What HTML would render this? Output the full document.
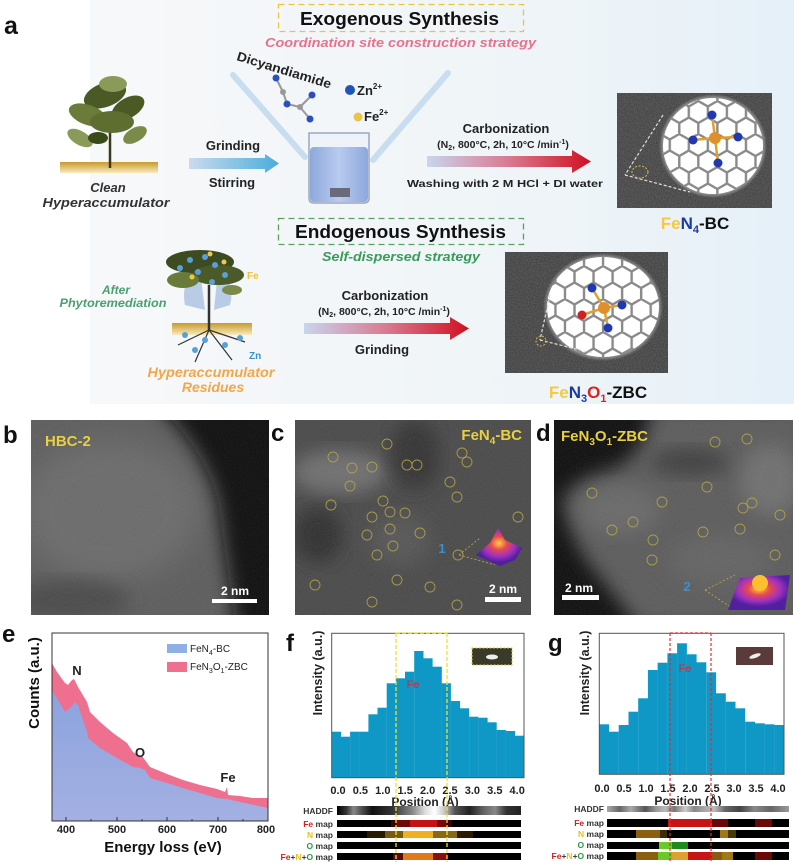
<!DOCTYPE html>
<html><head><meta charset="utf-8"><style>
html,body{margin:0;padding:0;background:#fff;}
svg{display:block;font-family:"Liberation Sans",Arial,sans-serif;}
</style></head><body>
<svg width="794" height="864" viewBox="0 0 794 864" xmlns="http://www.w3.org/2000/svg">
<defs>
<linearGradient id="bgA" x1="0" y1="0" x2="1" y2="0">
<stop offset="0" stop-color="#f7f8f9"/><stop offset="0.68" stop-color="#eef4f8"/><stop offset="1" stop-color="#e5f0f8"/></linearGradient>
<linearGradient id="soil" x1="0" y1="0" x2="0" y2="1"><stop offset="0" stop-color="#c89a2a"/><stop offset="1" stop-color="#f6ebc0"/></linearGradient>
<linearGradient id="arr1" x1="0" y1="0" x2="1" y2="0"><stop offset="0" stop-color="#cdd9ee"/><stop offset="1" stop-color="#4aaedb"/></linearGradient>
<linearGradient id="arr2" x1="0" y1="0" x2="1" y2="0"><stop offset="0" stop-color="#c9d5ef"/><stop offset="0.5" stop-color="#d87a90"/><stop offset="1" stop-color="#d01020"/></linearGradient>
<linearGradient id="beak" x1="0" y1="0" x2="1" y2="0"><stop offset="0" stop-color="#8ea8dc"/><stop offset="0.5" stop-color="#b8cbef"/><stop offset="1" stop-color="#8ea8dc"/></linearGradient>
<radialGradient id="glow" cx="0.5" cy="0.5" r="0.5"><stop offset="0.8" stop-color="#fff"/><stop offset="1" stop-color="#fff" stop-opacity="0"/></radialGradient>
<pattern id="hex" width="19.05" height="33" patternUnits="userSpaceOnUse" x="3" y="2">
<rect width="19.05" height="33" fill="#fff"/>
<path d="M9.53 0 L19.05 5.5 L19.05 16.5 L9.53 22 L0 16.5 L0 5.5 Z M9.53 22 L9.53 33" fill="none" stroke="#8a8a8a" stroke-width="2.4"/></pattern>
<filter id="noise" x="0" y="0" width="100%" height="100%"><feTurbulence type="fractalNoise" baseFrequency="0.85" numOctaves="2" seed="4"/><feColorMatrix type="saturate" values="0"/></filter>
<filter id="blur" x="-20%" y="-20%" width="140%" height="140%"><feGaussianBlur stdDeviation="9"/></filter>
<filter id="blur2" x="-30%" y="-30%" width="160%" height="160%"><feGaussianBlur stdDeviation="14"/></filter>
<radialGradient id="peak" cx="0.5" cy="0.4" r="0.5"><stop offset="0" stop-color="#ffd040"/><stop offset="0.35" stop-color="#e84a50"/><stop offset="0.7" stop-color="#a030c0"/><stop offset="1" stop-color="#5020a0"/></radialGradient>
<linearGradient id="blueE" x1="0" y1="0" x2="0" y2="1"><stop offset="0" stop-color="#8ba3de"/><stop offset="1" stop-color="#a4b0e2"/></linearGradient>
<linearGradient id="hadf" gradientUnits="userSpaceOnUse" x1="337" y1="0" x2="521" y2="0">
<stop offset="0" stop-color="#000"/><stop offset="0.05" stop-color="#333"/><stop offset="0.09" stop-color="#888"/><stop offset="0.13" stop-color="#555"/><stop offset="0.19" stop-color="#111"/><stop offset="0.3" stop-color="#333"/><stop offset="0.41" stop-color="#888"/><stop offset="0.48" stop-color="#ddd"/><stop offset="0.53" stop-color="#fff"/><stop offset="0.58" stop-color="#ccc"/><stop offset="0.64" stop-color="#555"/><stop offset="0.72" stop-color="#222"/><stop offset="0.8" stop-color="#666"/><stop offset="0.86" stop-color="#888"/><stop offset="0.92" stop-color="#333"/><stop offset="1" stop-color="#222"/></linearGradient>
<linearGradient id="hadg" gradientUnits="userSpaceOnUse" x1="607" y1="0" x2="789" y2="0">
<stop offset="0" stop-color="#aaa"/><stop offset="0.07" stop-color="#666"/><stop offset="0.13" stop-color="#aaa"/><stop offset="0.21" stop-color="#555"/><stop offset="0.27" stop-color="#999"/><stop offset="0.32" stop-color="#bbb"/><stop offset="0.37" stop-color="#777"/><stop offset="0.43" stop-color="#ccc"/><stop offset="0.48" stop-color="#888"/><stop offset="0.54" stop-color="#aaa"/><stop offset="0.59" stop-color="#bbb"/><stop offset="0.65" stop-color="#666"/><stop offset="0.73" stop-color="#444"/><stop offset="0.81" stop-color="#888"/><stop offset="0.9" stop-color="#666"/><stop offset="1" stop-color="#999"/></linearGradient>
<clipPath id="e1"><ellipse cx="713" cy="146" rx="50" ry="48"/></clipPath>
<clipPath id="e2"><ellipse cx="603" cy="307" rx="56" ry="50"/></clipPath>
<clipPath id="cb"><rect x="31" y="420" width="238" height="195"/></clipPath>
<clipPath id="cc"><rect x="295" y="420" width="236" height="195"/></clipPath>
<clipPath id="cd"><rect x="554" y="420" width="239" height="195"/></clipPath>
</defs>

<!-- ===== Panel a ===== -->
<rect x="0" y="0" width="794" height="405" fill="#fff"/>
<rect x="90" y="0" width="704" height="404" fill="url(#bgA)"/>
<text x="4" y="34" font-size="25" font-weight="bold" fill="#111">a</text>

<rect x="278.5" y="4.5" width="245" height="27" fill="none" stroke="#e8c640" stroke-width="1.3" stroke-dasharray="6,4"/>
<text x="300" y="25" font-size="18" font-weight="bold" fill="#111" textLength="199" lengthAdjust="spacingAndGlyphs">Exogenous Synthesis</text>
<text x="265" y="47" font-size="13" font-weight="bold" font-style="italic" fill="#e8718c" textLength="271" lengthAdjust="spacingAndGlyphs">Coordination site construction strategy</text>

<line x1="233" y1="75" x2="305" y2="157" stroke="#c8ddf0" stroke-width="6" stroke-linecap="round"/>
<line x1="448" y1="73" x2="373" y2="160" stroke="#c8ddf0" stroke-width="6" stroke-linecap="round"/>
<text x="0" y="0" font-size="13" font-weight="bold" fill="#222" transform="translate(236,60) rotate(17)" textLength="98" lengthAdjust="spacingAndGlyphs">Dicyandiamide</text>
<g stroke="#999" stroke-width="2"><line x1="276" y1="78" x2="283" y2="92"/><line x1="283" y1="92" x2="287" y2="104"/><line x1="287" y1="104" x2="300" y2="107"/><line x1="300" y1="107" x2="312" y2="95"/><line x1="300" y1="107" x2="310" y2="119"/></g>
<circle cx="276" cy="78" r="3.5" fill="#2a4fc0"/><circle cx="283" cy="92" r="3" fill="#999"/><circle cx="287" cy="104" r="3.5" fill="#2a4fc0"/><circle cx="300" cy="107" r="3" fill="#999"/><circle cx="312" cy="95" r="3.5" fill="#2a4fc0"/><circle cx="310" cy="119" r="3.5" fill="#2a4fc0"/>
<circle cx="350" cy="90" r="5" fill="#1f55b8"/>
<text x="357" y="95" font-size="13" font-weight="bold" fill="#222">Zn<tspan font-size="8" dy="-6">2+</tspan></text>
<circle cx="358" cy="117" r="4.5" fill="#e8c448"/>
<text x="364" y="121" font-size="13" font-weight="bold" fill="#222">Fe<tspan font-size="8" dy="-6">2+</tspan></text>
<path d="M309 133 L369 133 L369 198 Q369 203 364 203 L314 203 Q309 203 309 198 Z" fill="#eef3fa" stroke="#9aa8c0" stroke-width="1.5"/>
<rect x="310" y="147" width="58" height="55" rx="4" fill="url(#beak)"/>
<rect x="330" y="188" width="20" height="9" fill="#6a6a7a"/>

<rect x="60" y="162" width="98" height="11" fill="url(#soil)"/>
<line x1="110" y1="120" x2="110" y2="168" stroke="#3a3a20" stroke-width="2.5"/>
<g fill="#4b5a25">
<ellipse cx="105" cy="95" rx="22" ry="12" transform="rotate(-20 105 95)"/>
<ellipse cx="88" cy="115" rx="20" ry="10" transform="rotate(20 88 115)" fill="#6b7b3a"/>
<ellipse cx="128" cy="108" rx="18" ry="10" transform="rotate(-30 128 108)"/>
<ellipse cx="112" cy="122" rx="22" ry="11" fill="#5e6e30"/>
<ellipse cx="80" cy="138" rx="14" ry="7" transform="rotate(30 80 138)" fill="#8a9a58"/>
<ellipse cx="135" cy="135" rx="13" ry="7" transform="rotate(-30 135 135)" fill="#7a8a48"/>
<ellipse cx="113" cy="84" rx="14" ry="8" fill="#8a9a58"/>
<ellipse cx="98" cy="138" rx="10" ry="6" fill="#3a4a18"/>
</g>
<text x="108" y="192" font-size="13" font-weight="bold" font-style="italic" fill="#333" text-anchor="middle">Clean</text>
<text x="106" y="207" font-size="13" font-weight="bold" font-style="italic" fill="#333" text-anchor="middle" textLength="127" lengthAdjust="spacingAndGlyphs">Hyperaccumulator</text>

<path d="M189 158 L265 158 L265 154 L279 163.5 L265 173 L265 169 L189 169 Z" fill="url(#arr1)"/>
<text x="233" y="150" font-size="13" font-weight="bold" fill="#222" text-anchor="middle">Grinding</text>
<text x="232" y="187" font-size="13" font-weight="bold" fill="#222" text-anchor="middle">Stirring</text>

<text x="506" y="133" font-size="13" font-weight="bold" fill="#222" text-anchor="middle">Carbonization</text>
<text x="503" y="148" font-size="10.5" font-weight="bold" fill="#222" text-anchor="middle">(N<tspan font-size="7" dy="2">2</tspan><tspan dy="-2">, 800°C, 2h, 10°C /min</tspan><tspan font-size="7" dy="-4">-1</tspan><tspan dy="4">)</tspan></text>
<path d="M427 156 L572 156 L572 150 L591 161.5 L572 173 L572 167 L427 167 Z" fill="url(#arr2)"/>
<text x="505" y="187" font-size="10.5" font-weight="bold" fill="#222" text-anchor="middle" textLength="196" lengthAdjust="spacingAndGlyphs">Washing with 2 M HCl + DI water</text>

<rect x="617" y="93" width="155" height="115" fill="#3a3a3a"/>
<rect x="617" y="93" width="155" height="115" filter="url(#noise)" opacity="0.35"/>
<ellipse cx="713" cy="146" rx="54" ry="52" fill="url(#glow)"/>
<rect x="660" y="96" width="106" height="100" fill="url(#hex)" clip-path="url(#e1)"/>
<line x1="663" y1="115" x2="625" y2="175" stroke="#ddd" stroke-width="1.2" stroke-dasharray="3,2"/>
<line x1="625" y1="175" x2="690" y2="192" stroke="#ddd" stroke-width="1.2" stroke-dasharray="3,2"/>
<ellipse cx="640" cy="172" rx="8" ry="6" fill="none" stroke="#d8b840" stroke-width="1" stroke-dasharray="2,1.5"/>
<g stroke="#e0a030" stroke-width="2.5"><line x1="715" y1="138" x2="712" y2="115"/><line x1="715" y1="138" x2="693" y2="140"/><line x1="715" y1="138" x2="738" y2="137"/><line x1="715" y1="138" x2="718" y2="163"/></g>
<g fill="#2038b0"><circle cx="712" cy="115" r="4.5"/><circle cx="693" cy="140" r="4.5"/><circle cx="738" cy="137" r="4.5"/><circle cx="718" cy="163" r="4.5"/></g>
<circle cx="715" cy="138" r="6" fill="#e0902a"/>
<text x="695" y="229" font-size="17" font-weight="bold" text-anchor="middle"><tspan fill="#f5c842">Fe</tspan><tspan fill="#1a3aa8">N</tspan><tspan fill="#1a3aa8" font-size="11" dy="4">4</tspan><tspan fill="#111" dy="-4">-BC</tspan></text>

<rect x="278.5" y="218.5" width="245" height="26" fill="none" stroke="#5aa060" stroke-width="1.3" stroke-dasharray="6,4"/>
<text x="295" y="238" font-size="18" font-weight="bold" fill="#111" textLength="211" lengthAdjust="spacingAndGlyphs">Endogenous Synthesis</text>
<text x="322" y="261" font-size="13" font-weight="bold" font-style="italic" fill="#3a9a5a" textLength="158" lengthAdjust="spacingAndGlyphs">Self-dispersed strategy</text>

<path d="M185 305 Q180 280 200 270 L205 310 Z" fill="#b8cce8"/>
<path d="M230 305 Q236 280 218 270 L214 310 Z" fill="#b8cce8"/>
<rect x="172" y="323" width="80" height="12" fill="url(#soil)"/>
<line x1="209" y1="285" x2="209" y2="330" stroke="#333" stroke-width="2.5"/>
<g stroke="#333" stroke-width="1.2" fill="none"><path d="M209 330 L195 362"/><path d="M209 330 L232 360"/><path d="M209 330 L178 345"/><path d="M209 330 L245 342"/></g>
<g fill="#3d4b22">
<ellipse cx="200" cy="262" rx="34" ry="12"/>
<ellipse cx="218" cy="275" rx="26" ry="10" fill="#4a5a28"/>
<ellipse cx="183" cy="280" rx="16" ry="8" fill="#6a7a3a"/>
<ellipse cx="232" cy="290" rx="10" ry="5" fill="#7a8a48"/>
</g>
<g fill="#5aa0d8"><circle cx="190" cy="260" r="3"/><circle cx="205" cy="257" r="3"/><circle cx="215" cy="265" r="3"/><circle cx="198" cy="272" r="3"/><circle cx="225" cy="275" r="3"/><circle cx="180" cy="268" r="3"/><circle cx="212" cy="282" r="3"/><circle cx="185" cy="335" r="3"/><circle cx="205" cy="340" r="3"/><circle cx="225" cy="345" r="3"/><circle cx="195" cy="350" r="3"/><circle cx="240" cy="338" r="3"/></g>
<g fill="#f0c848"><circle cx="210" cy="254" r="2.5"/><circle cx="224" cy="262" r="2.5"/><circle cx="192" cy="277" r="2.5"/></g>
<text x="247" y="279" font-size="10" font-weight="bold" fill="#f0c040">Fe</text>
<text x="249" y="359" font-size="10" font-weight="bold" fill="#3a90c8">Zn</text>
<text x="116" y="294" font-size="12" font-weight="bold" font-style="italic" fill="#4aa070" text-anchor="middle">After</text>
<text x="113" y="307" font-size="12" font-weight="bold" font-style="italic" fill="#4aa070" text-anchor="middle" textLength="107" lengthAdjust="spacingAndGlyphs">Phytoremediation</text>
<text x="211" y="377" font-size="14" font-weight="bold" font-style="italic" fill="#f0a848" text-anchor="middle" textLength="127" lengthAdjust="spacingAndGlyphs">Hyperaccumulator</text>
<text x="213" y="392" font-size="14" font-weight="bold" font-style="italic" fill="#f0a848" text-anchor="middle">Residues</text>

<text x="385" y="300" font-size="13" font-weight="bold" fill="#222" text-anchor="middle">Carbonization</text>
<text x="384" y="315" font-size="10.5" font-weight="bold" fill="#222" text-anchor="middle">(N<tspan font-size="7" dy="2">2</tspan><tspan dy="-2">, 800°C, 2h, 10°C /min</tspan><tspan font-size="7" dy="-4">-1</tspan><tspan dy="4">)</tspan></text>
<path d="M304 323 L450 323 L450 317 L469 328.5 L450 340 L450 334 L304 334 Z" fill="url(#arr2)"/>
<text x="382" y="354" font-size="13" font-weight="bold" fill="#222" text-anchor="middle">Grinding</text>

<rect x="505" y="252" width="163" height="121" fill="#383838"/>
<rect x="505" y="252" width="163" height="121" filter="url(#noise)" opacity="0.35"/>
<ellipse cx="603" cy="307" rx="60" ry="54" fill="url(#glow)"/>
<rect x="545" y="255" width="118" height="104" fill="url(#hex)" clip-path="url(#e2)"/>
<line x1="550" y1="295" x2="540" y2="340" stroke="#ddd" stroke-width="1.2" stroke-dasharray="3,2"/>
<line x1="540" y1="340" x2="592" y2="353" stroke="#ddd" stroke-width="1.2" stroke-dasharray="3,2"/>
<circle cx="541" cy="341" r="5" fill="none" stroke="#d8b840" stroke-width="1" stroke-dasharray="2,1.5"/>
<g stroke="#e0a030" stroke-width="2.5"><line x1="604" y1="308" x2="592" y2="288"/><line x1="604" y1="308" x2="582" y2="315"/><line x1="604" y1="308" x2="622" y2="305"/><line x1="604" y1="308" x2="608" y2="328"/></g>
<g fill="#2038b0"><circle cx="592" cy="288" r="4.5"/><circle cx="622" cy="305" r="4.5"/><circle cx="608" cy="328" r="4.5"/></g>
<circle cx="582" cy="315" r="4.5" fill="#d02020"/>
<circle cx="604" cy="308" r="6" fill="#e0902a"/>
<text x="598" y="398" font-size="17" font-weight="bold" text-anchor="middle"><tspan fill="#f5c842">Fe</tspan><tspan fill="#1a3aa8">N</tspan><tspan fill="#1a3aa8" font-size="11" dy="4">3</tspan><tspan fill="#e02020" dy="-4">O</tspan><tspan fill="#e02020" font-size="11" dy="4">1</tspan><tspan fill="#111" dy="-4">-ZBC</tspan></text>

<!-- ===== Panel b ===== -->
<text x="3" y="443" font-size="24" font-weight="bold" fill="#111">b</text>
<g clip-path="url(#cb)">
<rect x="31" y="420" width="238" height="195" fill="#5c5c5c"/>
<ellipse cx="110" cy="510" rx="90" ry="70" fill="#6a6a6a" filter="url(#blur2)"/>
<ellipse cx="70" cy="600" rx="60" ry="20" fill="#484848" filter="url(#blur)"/>
<path d="M150 400 L290 400 L290 630 L236 630 Q226 560 218 500 Q200 440 150 400 Z" fill="#0c0c0c" filter="url(#blur)"/>
<rect x="31" y="420" width="238" height="195" filter="url(#noise)" opacity="0.12"/>
</g>
<text x="45" y="446" font-size="15" font-weight="bold" fill="#e8d040">HBC-2</text>
<text x="235" y="595" font-size="12" font-weight="bold" fill="#fff" text-anchor="middle">2 nm</text>
<rect x="212" y="599" width="45" height="4" fill="#fff"/>

<!-- ===== Panel c ===== -->
<text x="271" y="441" font-size="24" font-weight="bold" fill="#111">c</text>
<g clip-path="url(#cc)">
<rect x="295" y="420" width="236" height="195" fill="#484848"/>
<ellipse cx="340" cy="472" rx="48" ry="22" fill="#6e6e6e" filter="url(#blur)"/>
<ellipse cx="415" cy="455" rx="25" ry="35" fill="#333" filter="url(#blur)"/>
<ellipse cx="318" cy="535" rx="25" ry="28" fill="#2e2e2e" filter="url(#blur)"/>
<ellipse cx="400" cy="540" rx="30" ry="25" fill="#555" filter="url(#blur)"/>
<rect x="295" y="420" width="236" height="195" filter="url(#noise)" opacity="0.14"/>
</g>
<g fill="none" stroke="#b8a848" stroke-width="0.9" opacity="0.85">
<circle cx="333" cy="457" r="5"/><circle cx="352" cy="468" r="5"/><circle cx="372" cy="467" r="5"/><circle cx="350" cy="486" r="5"/><circle cx="331" cy="505" r="5"/><circle cx="383" cy="501" r="5"/><circle cx="390" cy="512" r="5"/><circle cx="372" cy="517" r="5"/><circle cx="390" cy="529" r="5"/><circle cx="367" cy="535" r="5"/><circle cx="393" cy="546" r="5"/><circle cx="377" cy="555" r="5"/><circle cx="397" cy="580" r="5"/><circle cx="315" cy="585" r="5"/><circle cx="372" cy="602" r="5"/><circle cx="387" cy="444" r="5"/>
<circle cx="462" cy="453" r="5"/><circle cx="467" cy="462" r="5"/><circle cx="407" cy="465" r="5"/><circle cx="417" cy="465" r="5"/><circle cx="450" cy="482" r="5"/><circle cx="457" cy="497" r="5"/><circle cx="405" cy="513" r="5"/><circle cx="518" cy="517" r="5"/><circle cx="420" cy="533" r="5"/><circle cx="458" cy="555" r="5"/><circle cx="430" cy="587" r="5"/><circle cx="457" cy="605" r="5"/>
</g>
<path d="M459 555 L480 538 M459 555 L495 565" stroke="#c8a848" stroke-width="0.8" stroke-dasharray="2,2"/>
<path d="M476 555 L490 543 L498 528 L505 540 L522 548 L515 560 L500 566 Z" fill="url(#peak)"/>
<text x="442" y="553" font-size="13" font-weight="bold" fill="#3a90d0" text-anchor="middle">1</text>
<text x="522" y="440" font-size="15" font-weight="bold" fill="#e8d040" text-anchor="end">FeN<tspan font-size="10" dy="4">4</tspan><tspan dy="-4">-BC</tspan></text>
<text x="503" y="593" font-size="12" font-weight="bold" fill="#fff" text-anchor="middle">2 nm</text>
<rect x="485" y="597" width="36" height="5" fill="#fff"/>

<!-- ===== Panel d ===== -->
<text x="536" y="441" font-size="24" font-weight="bold" fill="#111">d</text>
<g clip-path="url(#cd)">
<rect x="554" y="420" width="239" height="195" fill="#0c0c0c"/>
<path d="M652 405 L810 405 L810 630 L640 630 Q615 595 590 565 Q568 535 562 500 Q575 478 610 470 Q645 458 652 405 Z" fill="#5a5a5a" filter="url(#blur)"/>
<ellipse cx="690" cy="462" rx="40" ry="14" fill="#3e3e3e" filter="url(#blur)"/>
<ellipse cx="620" cy="510" rx="40" ry="25" fill="#686868" filter="url(#blur)"/>
<ellipse cx="770" cy="480" rx="30" ry="35" fill="#6e6e6e" filter="url(#blur)"/>
<ellipse cx="720" cy="560" rx="50" ry="25" fill="#626262" filter="url(#blur)"/>
<rect x="554" y="420" width="239" height="195" filter="url(#noise)" opacity="0.14"/>
</g>
<g fill="none" stroke="#b8a848" stroke-width="0.9" opacity="0.85">
<circle cx="715" cy="442" r="5"/><circle cx="747" cy="439" r="5"/><circle cx="592" cy="493" r="5"/><circle cx="662" cy="502" r="5"/><circle cx="707" cy="487" r="5"/><circle cx="743" cy="508" r="5"/><circle cx="752" cy="503" r="5"/><circle cx="780" cy="515" r="5"/><circle cx="612" cy="530" r="5"/><circle cx="633" cy="522" r="5"/><circle cx="703" cy="532" r="5"/><circle cx="740" cy="529" r="5"/><circle cx="653" cy="540" r="5"/><circle cx="652" cy="560" r="5"/><circle cx="775" cy="555" r="5"/>
</g>
<path d="M705 590 L735 575 M705 590 L735 610" stroke="#c8a848" stroke-width="0.8" stroke-dasharray="2,2"/>
<path d="M728 610 L740 578 L790 575 L785 610 Z" fill="url(#peak)"/>
<circle cx="760" cy="583" r="8" fill="#ffc030"/>
<text x="687" y="591" font-size="13" font-weight="bold" fill="#3a90d0" text-anchor="middle">2</text>
<text x="561" y="441" font-size="15" font-weight="bold" fill="#e8d040">FeN<tspan font-size="10" dy="4">3</tspan><tspan dy="-4">O</tspan><tspan font-size="10" dy="4">1</tspan><tspan dy="-4">-ZBC</tspan></text>
<text x="579" y="592" font-size="12" font-weight="bold" fill="#fff" text-anchor="middle">2 nm</text>
<rect x="562" y="595" width="37" height="5" fill="#fff"/>

<!-- ===== Panel e ===== -->
<text x="2" y="642" font-size="24" font-weight="bold" fill="#111">e</text>
<path d="M52 663 L57 672 L65 683 L68 685 L72 680 L74 679 L78 687 L87 702 L90 712 L100 722 L113 733 L127 743 L133 752 L138 755 L142 756 L150 767 L167 774 L183 780 L200 785 L217 789 L225 792 L227 787 L228 795 L240 796 L253 798 L268 798 L268 821 L52 821 Z" fill="#ef6f8e"/>
<path d="M52 690 L58 700 L65 712 L70 708 L75 702 L78 705 L87 732 L88 738 L100 748 L117 758 L133 767 L140 768 L145 770 L150 778 L167 783 L183 788 L200 793 L217 798 L227 799 L240 802 L268 808 L268 821 L52 821 Z" fill="url(#blueE)"/>
<rect x="52" y="633" width="216" height="188" fill="none" stroke="#333" stroke-width="1"/>
<g stroke="#333" stroke-width="1"><line x1="66" y1="821" x2="66" y2="817"/><line x1="117" y1="821" x2="117" y2="817"/><line x1="167" y1="821" x2="167" y2="817"/><line x1="218" y1="821" x2="218" y2="817"/><line x1="91" y1="821" x2="91" y2="819"/><line x1="142" y1="821" x2="142" y2="819"/><line x1="192" y1="821" x2="192" y2="819"/><line x1="243" y1="821" x2="243" y2="819"/></g>
<g font-size="11" font-weight="bold" fill="#222" text-anchor="middle"><text x="66" y="833">400</text><text x="117" y="833">500</text><text x="167" y="833">600</text><text x="218" y="833">700</text><text x="266" y="833">800</text></g>
<text x="163" y="852" font-size="15" font-weight="bold" fill="#111" text-anchor="middle">Energy loss (eV)</text>
<text transform="translate(39,683) rotate(-90)" font-size="15" font-weight="bold" fill="#111" text-anchor="middle">Counts (a.u.)</text>
<rect x="167" y="644" width="20" height="9" fill="#8fb0e4"/>
<text x="190" y="652" font-size="10" fill="#222">FeN<tspan font-size="7" dy="3">4</tspan><tspan dy="-3">-BC</tspan></text>
<rect x="167" y="662" width="20" height="10" fill="#ef6f8e"/>
<text x="190" y="670" font-size="10" fill="#222">FeN<tspan font-size="7" dy="3">3</tspan><tspan dy="-3">O</tspan><tspan font-size="7" dy="3">1</tspan><tspan dy="-3">-ZBC</tspan></text>
<text x="77" y="675" font-size="13" font-weight="bold" fill="#222" text-anchor="middle">N</text>
<text x="140" y="757" font-size="13" font-weight="bold" fill="#222" text-anchor="middle">O</text>
<text x="228" y="782" font-size="13" font-weight="bold" fill="#222" text-anchor="middle">Fe</text>

<!-- ===== Panel f ===== -->
<text x="286" y="651" font-size="24" font-weight="bold" fill="#111">f</text>
<g fill="#0f98c6">
<rect x="331.7" y="731.7" width="9.3" height="46"/><rect x="340.9" y="736.7" width="9.3" height="41"/><rect x="350.1" y="731.7" width="9.3" height="46"/><rect x="359.2" y="731.7" width="9.3" height="46"/><rect x="368.4" y="714.3" width="9.3" height="63.4"/><rect x="377.5" y="707.7" width="9.3" height="70"/><rect x="386.7" y="683.3" width="9.3" height="94.4"/><rect x="395.8" y="678.3" width="9.3" height="99.4"/><rect x="405" y="671.7" width="9.3" height="106"/><rect x="414.2" y="651" width="9.3" height="126.7"/><rect x="423.3" y="658.3" width="9.3" height="119.4"/><rect x="432.5" y="666.7" width="9.3" height="111"/><rect x="441.6" y="683.3" width="9.3" height="94.4"/><rect x="450.8" y="701" width="9.3" height="76.7"/><rect x="459.9" y="708.3" width="9.3" height="69.4"/><rect x="469.1" y="716.7" width="9.3" height="61"/><rect x="478.3" y="717.7" width="9.3" height="60"/><rect x="487.4" y="722.3" width="9.3" height="55.4"/><rect x="496.6" y="730" width="9.3" height="47.7"/><rect x="505.7" y="731" width="9.3" height="46.7"/><rect x="514.9" y="735.7" width="9.1" height="42"/>
</g>
<rect x="331.7" y="633.3" width="192.3" height="144.4" fill="none" stroke="#555" stroke-width="1"/>
<rect x="472" y="648" width="40" height="17" fill="#3a3a2a" stroke="#d8c840" stroke-width="1" stroke-dasharray="2,1.5"/>
<ellipse cx="492" cy="657" rx="6" ry="2.5" fill="#eee"/>
<text x="413" y="688" font-size="11" fill="#c03040" text-anchor="middle">Fe</text>
<g font-size="11" font-weight="bold" fill="#222" text-anchor="middle"><text x="338" y="794">0.0</text><text x="360.4" y="794">0.5</text><text x="382.8" y="794">1.0</text><text x="405.2" y="794">1.5</text><text x="427.6" y="794">2.0</text><text x="450" y="794">2.5</text><text x="472.4" y="794">3.0</text><text x="494.8" y="794">3.5</text><text x="517.2" y="794">4.0</text></g>
<text x="425" y="806" font-size="12" font-weight="bold" fill="#222" text-anchor="middle">Position (Å)</text>
<text transform="translate(322,673) rotate(-90)" font-size="12.5" font-weight="bold" fill="#222" text-anchor="middle">Intensity (a.u.)</text>
<rect x="337" y="806" width="184" height="9" fill="url(#hadf)"/>
<rect x="337" y="820" width="184" height="7" fill="#000"/>
<rect x="391" y="820" width="5" height="7" fill="#3a0505"/><rect x="396" y="820" width="14" height="7" fill="#6a0a0a"/><rect x="410" y="820" width="27" height="7" fill="#c41212"/><rect x="437" y="820" width="9" height="7" fill="#7a0a0a"/><rect x="446" y="820" width="6" height="7" fill="#3a0505"/>
<rect x="337" y="831" width="184" height="7" fill="#000"/>
<rect x="367" y="831" width="18" height="7" fill="#2a1a00"/><rect x="385" y="831" width="18" height="7" fill="#7a5a10"/><rect x="403" y="831" width="30" height="7" fill="#f0b020"/><rect x="433" y="831" width="24" height="7" fill="#8a6a10"/><rect x="457" y="831" width="16" height="7" fill="#2a1a00"/>
<rect x="337" y="842" width="184" height="7" fill="#000"/>
<rect x="337" y="853" width="184" height="7" fill="#000"/>
<rect x="393" y="853" width="10" height="7" fill="#5a0a0a"/><rect x="403" y="853" width="30" height="7" fill="#e07a18"/><rect x="433" y="853" width="14" height="7" fill="#8a1010"/>
<line x1="396" y1="633" x2="447" y2="633" stroke="#f0e030" stroke-width="1.3" stroke-dasharray="4,2"/>
<line x1="396" y1="633" x2="396" y2="862" stroke="#f0e030" stroke-width="1.3" stroke-dasharray="4,2"/>
<line x1="447" y1="633" x2="447" y2="862" stroke="#f0e030" stroke-width="1.3" stroke-dasharray="4,2"/>
<g font-size="8.5" font-weight="bold" fill="#333" text-anchor="end">
<text x="333" y="814">HADDF</text>
<text x="333" y="827"><tspan fill="#d02020">Fe</tspan> map</text>
<text x="333" y="838"><tspan fill="#e8c020">N</tspan> map</text>
<text x="333" y="849"><tspan fill="#2a9a40">O</tspan> map</text>
<text x="333" y="860"><tspan fill="#d02020">Fe</tspan>+<tspan fill="#e8c020">N</tspan>+<tspan fill="#2a9a40">O</tspan> map</text>
</g>

<!-- ===== Panel g ===== -->
<text x="548" y="651" font-size="24" font-weight="bold" fill="#111">g</text>
<g fill="#0f98c6">
<rect x="599.3" y="724.3" width="9.8" height="50"/><rect x="609" y="731.7" width="9.8" height="42.6"/><rect x="618.7" y="725" width="9.8" height="49.3"/><rect x="628.5" y="711.7" width="9.8" height="62.6"/><rect x="638.2" y="698.3" width="9.8" height="76"/><rect x="647.9" y="670" width="9.8" height="104.3"/><rect x="657.6" y="662.7" width="9.8" height="111.6"/><rect x="667.4" y="653.3" width="9.8" height="121"/><rect x="677.1" y="643.3" width="9.8" height="131"/><rect x="686.8" y="654.3" width="9.8" height="120"/><rect x="696.5" y="662.3" width="9.8" height="112"/><rect x="706.3" y="672.3" width="9.8" height="102"/><rect x="716" y="693.3" width="9.8" height="81"/><rect x="725.7" y="701.7" width="9.8" height="72.6"/><rect x="735.4" y="708.3" width="9.8" height="66"/><rect x="745.2" y="721.7" width="9.8" height="52.6"/><rect x="754.9" y="723.3" width="9.8" height="51"/><rect x="764.6" y="724.3" width="9.8" height="50"/><rect x="774.3" y="725" width="9.7" height="49.3"/>
</g>
<rect x="599.3" y="633.3" width="184.7" height="141" fill="none" stroke="#555" stroke-width="1"/>
<rect x="736" y="647" width="37" height="18" fill="#5a3a3a"/>
<ellipse cx="755" cy="656" rx="6" ry="2" fill="#eee" transform="rotate(-20 755 656)"/>
<text x="685" y="672" font-size="11" fill="#c03040" text-anchor="middle">Fe</text>
<g font-size="11" font-weight="bold" fill="#222" text-anchor="middle"><text x="602" y="792">0.0</text><text x="624" y="792">0.5</text><text x="646" y="792">1.0</text><text x="668" y="792">1.5</text><text x="690" y="792">2.0</text><text x="712" y="792">2.5</text><text x="734" y="792">3.0</text><text x="756" y="792">3.5</text><text x="778" y="792">4.0</text></g>
<text x="688" y="805" font-size="12" font-weight="bold" fill="#222" text-anchor="middle">Position (Å)</text>
<text transform="translate(589,673) rotate(-90)" font-size="12.5" font-weight="bold" fill="#222" text-anchor="middle">Intensity (a.u.)</text>
<rect x="607" y="806" width="182" height="6" fill="url(#hadg)"/>
<rect x="607" y="819" width="182" height="8" fill="#000"/>
<rect x="668" y="819" width="44" height="8" fill="#c81414"/><rect x="712" y="819" width="16" height="8" fill="#6a0808"/><rect x="755" y="819" width="17" height="8" fill="#6a0808"/>
<rect x="607" y="830" width="182" height="8" fill="#000"/>
<rect x="636" y="830" width="24" height="8" fill="#8a6010"/><rect x="660" y="830" width="7" height="8" fill="#3a2a05"/><rect x="720" y="830" width="8" height="8" fill="#a07818"/><rect x="728" y="830" width="8" height="8" fill="#4a3808"/>
<rect x="607" y="842" width="182" height="7" fill="#000"/>
<rect x="659" y="842" width="13" height="7" fill="#6ac828"/><rect x="672" y="842" width="16" height="7" fill="#1f8a1f"/>
<rect x="607" y="852" width="182" height="8" fill="#000"/>
<rect x="636" y="852" width="22" height="8" fill="#8a6010"/><rect x="658" y="852" width="14" height="8" fill="#6ac828"/><rect x="672" y="852" width="16" height="8" fill="#e0a030"/><rect x="688" y="852" width="24" height="8" fill="#c81414"/><rect x="712" y="852" width="10" height="8" fill="#8a5a10"/><rect x="722" y="852" width="11" height="8" fill="#a07818"/><rect x="755" y="852" width="17" height="8" fill="#6a0808"/>
<line x1="670" y1="633" x2="711" y2="633" stroke="#e03030" stroke-width="1.2" stroke-dasharray="3,2"/>
<line x1="670" y1="633" x2="670" y2="862" stroke="#e03030" stroke-width="1.2" stroke-dasharray="3,2"/>
<line x1="711" y1="633" x2="711" y2="862" stroke="#e03030" stroke-width="1.2" stroke-dasharray="3,2"/>
<g font-size="8.5" font-weight="bold" fill="#333" text-anchor="end">
<text x="604" y="812">HADDF</text>
<text x="604" y="826"><tspan fill="#d02020">Fe</tspan> map</text>
<text x="604" y="837"><tspan fill="#e8c020">N</tspan> map</text>
<text x="604" y="848"><tspan fill="#2a9a40">O</tspan> map</text>
<text x="604" y="859"><tspan fill="#d02020">Fe</tspan>+<tspan fill="#e8c020">N</tspan>+<tspan fill="#2a9a40">O</tspan> map</text>
</g>
</svg>
</body></html>
